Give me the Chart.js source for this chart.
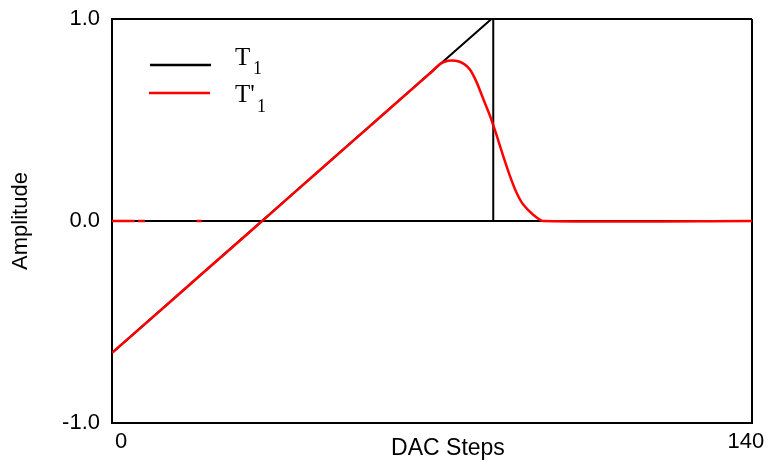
<!DOCTYPE html>
<html>
<head>
<meta charset="utf-8">
<script src="https://cdn.jsdelivr.net/npm/chart.js@4/dist/chart.umd.min.js"></script>
<style>
  html, body { margin: 0; padding: 0; background: #fff; }
  #wrap { width: 768px; height: 462px; }
</style>
</head>
<body>
<div id="wrap"><canvas id="chart"></canvas></div>
<script>
// Datos
const xTicks = [0, 140];
const yTicks = [-1, 0, 1];

// T1: rampa y caída vertical
const t1Steps = [0, 83.0, 83.4, 83.4];
const t1Amp   = [-0.653, 1.0, 1.0, 0.0];

// T'1: restos en cero a la izquierda, rampa, pico y caída suave
const t2Steps = [0, 5.0, 5.0, 5.7, 7.2, 7.2, 18.5, 19.6, 19.6,
                 0, 10, 20, 30, 40, 50, 60, 70, 71.8, 73.5, 75.2, 76.8, 78.3, 79.8,
                 81.2, 82.7, 84.2, 85.6, 87.1, 88.5, 90.0, 92.2, 94.3, 140];
const t2Amp   = [0, 0, null, 0, 0, null, 0, 0, null,
                 -0.653, -0.455, -0.255, -0.057, 0.143, 0.342, 0.541, 0.74, 0.778, 0.793, 0.793, 0.78, 0.75, 0.685,
                 0.605, 0.52, 0.42, 0.32, 0.22, 0.14, 0.08, 0.03, 0.0, 0.0];

function toPoints(xs, ys) {
    return xs.map((x, i) => ({ x: x, y: ys[i] }));
}

// Leyenda dibujada a mano (subíndices)
const legendPlugin = {
    id: 'legendPlugin',
    afterDraw(chart) {
        const c = chart.ctx;
        c.save();
        c.lineWidth = 2.5;
        c.strokeStyle = '#000';
        c.beginPath(); c.moveTo(150, 65); c.lineTo(211, 65); c.stroke();
        c.strokeStyle = '#ff0000';
        c.beginPath(); c.moveTo(149, 93); c.lineTo(210, 93); c.stroke();

        c.fillStyle = '#000';
        c.textBaseline = 'alphabetic';
        c.textAlign = 'left';
        c.font = '25px "Liberation Serif", serif';
        c.fillText('T', 235, 65);
        c.fillText("T'", 235, 102);
        c.font = '18px "Liberation Serif", serif';
        c.fillText('1', 253, 74);
        c.fillText('1', 257, 112);
        c.restore();
    }
};

const axisFont = { family: '"Liberation Sans", Arial, sans-serif', size: 22 };

const ctx = document.getElementById('chart').getContext('2d');
new Chart(ctx, {
    type: 'line',
    data: {
        datasets: [
            {
                label: 'T1',
                data: toPoints(t1Steps, t1Amp),
                borderColor: '#000',
                borderWidth: 2,
                pointRadius: 0,
                tension: 0,
                order: 2
            },
            {
                label: "T'1",
                data: toPoints(t2Steps, t2Amp),
                borderColor: '#ff0000',
                borderWidth: 2.5,
                pointRadius: 0,
                tension: 0.2,
                spanGaps: false,
                order: 1
            }
        ]
    },
    options: {
        responsive: true,
        maintainAspectRatio: false,
        animation: false,
        layout: { padding: { top: 19, right: 16, left: 0, bottom: 0 } },
        plugins: {
            legend: { display: false },
            tooltip: { enabled: false }
        },
        scales: {
            x: {
                type: 'linear',
                min: xTicks[0],
                max: xTicks[xTicks.length - 1],
                afterBuildTicks: scale => { scale.ticks = xTicks.map(v => ({ value: v })); },
                afterFit: scale => {
                    scale.height = 39;
                    scale.paddingLeft = 0;
                    scale.paddingRight = 0;
                },
                ticks: {
                    color: '#000',
                    font: axisFont,
                    padding: 6,
                    maxRotation: 0,
                    callback: v => v === 0 ? '   0' : v + '  '
                },
                grid: { color: '#000', lineWidth: 2, drawTicks: false },
                border: { display: true, color: '#000', width: 2 },
                title: {
                    display: true,
                    text: '     DAC Steps',
                    color: '#000',
                    font: { family: axisFont.family, size: 23 },
                    padding: { top: 0, bottom: 0 }
                }
            },
            y: {
                min: yTicks[0],
                max: yTicks[yTicks.length - 1],
                afterBuildTicks: scale => { scale.ticks = yTicks.map(v => ({ value: v })); },
                afterFit: scale => {
                    scale.width = 112;
                    scale.paddingTop = 0;
                    scale.paddingBottom = 0;
                },
                ticks: {
                    color: '#000',
                    font: axisFont,
                    padding: 12,
                    callback: v => v.toFixed(1)
                },
                grid: { color: '#000', lineWidth: 2, drawTicks: false },
                border: { display: true, color: '#000', width: 2 },
                title: {
                    display: true,
                    text: 'Amplitude',
                    color: '#000',
                    font: axisFont,
                    padding: { top: 8, bottom: 0 }
                }
            }
        }
    },
    plugins: [legendPlugin]
});
</script>
</body>
</html>
